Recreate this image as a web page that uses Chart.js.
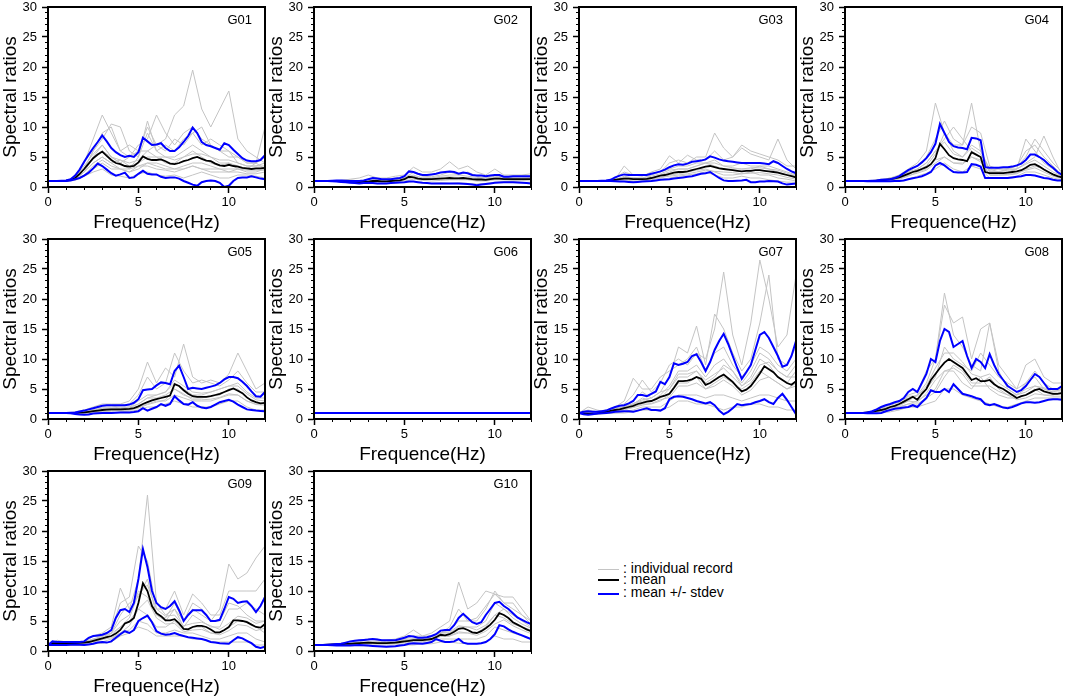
<!DOCTYPE html>
<html>
<head>
<meta charset="utf-8">
<script src="https://cdn.jsdelivr.net/npm/chart.js@4.4.1/dist/chart.umd.min.js"></script>
<style>
body { margin: 0; background: #fff; width: 1065px; height: 698px; position: relative; overflow: hidden;
       font-family: "Liberation Sans", Arial, Helvetica, sans-serif; }
canvas.panel { position: absolute; }
.key-line { position: absolute; left: 598px; width: 21px; }
.key-text { position: absolute; left: 623px; font-size: 14px; line-height: 16px; color: #000; white-space: nowrap; }
</style>
</head>
<body>

<div class="key-line" style="top:569px;height:1px;background:#c4c4c4"></div>
<div class="key-text" style="top:560px">: individual record</div>
<div class="key-line" style="top:579px;height:2px;background:#000"></div>
<div class="key-text" style="top:571px">: mean</div>
<div class="key-line" style="top:593px;height:2px;background:#0000ff"></div>
<div class="key-text" style="top:584px">: mean +/- stdev</div>

<script>
// frequency grids (Hz)
var freqFine = [0,0.25,0.5,0.75, 1,1.25,1.5,1.75, 2,2.25,2.5,2.75, 3,3.25,3.5,3.75,
    4,4.25,4.5,4.75, 5,5.25,5.5,5.75, 6,6.25,6.5,6.75, 7,7.25,7.5,7.75,
    8,8.25,8.5,8.75, 9,9.25,9.5,9.75, 10,10.25,10.5,10.75, 11,11.25,11.5,11.75, 12];
var freqCoarse = [0,0.5,1,1.5, 2,2.5,3,3.5, 4,4.5,5,5.5, 6,6.5,7,7.5, 8,8.5,9,9.5, 10,10.5,11,11.5, 12];

var panelNames = ['G01','G02','G03','G04','G05','G06','G07','G08','G09','G10'];

// ---- G01
var meanG01 = [1,1,1,1, 1.05,1.2,1.5,2.2, 3.0,3.9,4.8,5.4, 5.9,5.2,4.5,4.0, 3.8,3.5,3.4,3.5, 4.1,5.1,4.7,4.5,
    4.5,4.6,4.3,3.9, 3.8,4.0,4.3,4.5, 4.8,5.0,4.7,4.4, 4.3,3.9,3.6,3.5, 3.7,3.5,3.4,3.2, 3.1,3.0,3.1,3.1, 3.2];
var upperG01 = [1,1,1,1.05, 1.1,1.3,1.9,2.9, 4.2,5.4,6.5,7.5, 8.6,7.6,6.5,5.8, 5.3,5.0,5.2,5.0, 5.8,8.2,7.6,7.0,
    7.1,7.3,6.5,6.0, 6.0,6.6,7.5,8.5, 9.9,9.0,7.5,7.0, 6.8,6.5,6.2,7.3, 7.0,6.2,5.5,4.8, 4.4,4.3,4.3,4.5, 5.3];
var lowerG01 = [1,1,1,1, 1,1.1,1.3,1.5, 1.9,2.4,3.1,3.9, 3.5,2.9,2.3,1.9, 2.1,2.4,1.5,1.6, 2.2,2.7,2.2,2.1,
    2.1,1.7,1.5,1.6, 1.6,1.4,1.0,0.7, 0.4,0.2,0.8,1.0, 1.1,1.0,0.7,0.0, 0.2,1.0,1.5,1.6, 1.6,1.8,1.6,1.4, 1.3];
var grayG01 = [
    [1,1,1,1.3, 2.5,5,6,5, 4,5,6,6, 7,8,12,13.5, 19.5,13,10,13, 16,8,6,5, 4],
    [1,1,1,1.5, 4,8,12,9, 6,7,6,10, 7,6,8,7, 9,10,7,6, 5,5,4,4, 5],
    [1,1,1,1.2, 3,6,9,10, 6,5,7,8, 12,9,7,9, 10,8,7,6, 6,5,4,4, 3],
    [1,1,1,1.3, 3,5,7,5, 4,3,5,11, 6,5,5,6, 7,6,5,4, 4,3,3,4, 10],
    [1,1,1,1.2, 2,3,4,3, 3,2.5,3,4, 3.5,3,3,3, 3.5,3,3,3, 2.5,3,2.5,2.5, 3],
    [1,1,1,1.1, 1.8,2.5,3,2, 1.8,1.5,2.2,2.5, 2,1.8,2,1.5, 2,2.5,2,1.5, 1.5,2,2,1.8, 1.5],
    [1,1,1,1.3, 2.5,4,5,4, 4.5,3.5,4,5, 5,4,4,5, 6,5,4,3.5, 4,3.5,3,3, 3],
    [1,1,1,1.2, 2,3.5,4.5,3.5, 3,2.5,3.5,3.5, 3,2.8,2.5,3, 3.5,3,2.5,2.5, 2.5,2.5,2.2,2.2, 2.5],
    [1,1,1,1.4, 3,6,8,10.5, 10,6,5,9, 6,7,6,8, 9,7,8,7, 6,4,3.5,3.5, 4],
    [1,1,1,1.6, 3.5,5.5,7,5, 4.5,4,4.5,6, 5,5,4.5,5, 5.5,5.5,5,4.5, 4.5,4,3.5,3.5, 3.5],
    [1,1,1,1.4, 2.5,4,5,4, 3,3,3.5,4, 4,3.5,3,3.5, 4,4,3.5,3, 3,3,2.8,2.8, 2.8]
];

// ---- G02
var meanG02 = [1,1,1,1, 1,1,0.95,0.9, 0.85,0.8,0.8,0.85, 0.9,1.0,1.0,0.95, 0.95,1.0,1.05,1.1, 1.3,1.7,1.6,1.4,
    1.3,1.3,1.3,1.35, 1.4,1.45,1.5,1.45, 1.45,1.5,1.4,1.3, 1.25,1.25,1.2,1.3, 1.4,1.4,1.3,1.3, 1.3,1.3,1.3,1.3, 1.3];
var upperG02 = [1,1,1,1, 1.05,1.1,1.1,1.05, 1.0,1.0,1.0,1.1, 1.3,1.5,1.4,1.3, 1.3,1.3,1.4,1.5, 1.8,2.6,2.5,2.2,
    2.0,2.0,2.1,2.2, 2.4,2.5,2.6,2.5, 2.2,2.4,2.3,2.0, 1.9,1.9,1.8,1.9, 2.0,2.0,1.7,1.7, 1.8,1.8,1.8,1.8, 1.8];
var lowerG02 = [1,1,1,1, 0.95,0.9,0.85,0.8, 0.7,0.65,0.6,0.65, 0.7,0.65,0.6,0.6, 0.6,0.65,0.7,0.75, 0.8,0.9,0.9,0.8,
    0.7,0.65,0.6,0.6, 0.6,0.6,0.6,0.6, 0.6,0.55,0.5,0.4, 0.3,0.4,0.5,0.6, 0.7,0.75,0.8,0.8, 0.8,0.75,0.7,0.65, 0.6];
var grayG02 = [
    [1,1,1,1.1, 1.3,1.5,2.0,1.5, 1.5,1.8,2.0,3.3, 2.5,2.5,3.0,4.2, 3.0,3.5,2.5,2.0, 3.0,2.0,2.0,2.0, 2.2],
    [1,1,1,1, 0.9,0.8,1.0,1.3, 1.2,1.3,1.5,2.0, 1.5,1.5,1.8,2.0, 2.0,2.5,1.8,1.5, 2.0,1.5,1.5,1.5, 1.6],
    [1,1,1,0.9, 0.8,0.7,0.8,0.8, 0.8,0.9,1.0,1.3, 1.1,1.0,1.1,1.2, 1.2,1.2,1.0,1.0, 1.2,1.2,1.1,1.1, 1.0],
    [1,1,1,1, 1.0,0.9,1.1,1.0, 1.0,1.1,1.2,1.6, 1.3,1.4,1.5,1.5, 1.6,1.5,1.2,1.3, 1.5,1.4,1.4,1.3, 1.4],
    [1,1,1,0.9, 0.7,0.6,0.6,0.6, 0.6,0.7,0.8,0.9, 0.7,0.6,0.7,0.6, 0.7,0.6,0.5,0.6, 0.8,0.9,0.9,0.8, 0.7],
    [1,1,1,1.1, 1.2,1.0,1.2,1.1, 1.3,1.4,1.6,2.4, 1.8,1.7,2.0,2.5, 2.0,1.8,1.6,1.5, 1.8,1.6,1.7,1.8, 1.8],
    [1,1,1,1.0, 0.9,0.9,1.0,1.1, 1.1,1.2,1.5,1.8, 1.5,1.5,1.6,1.7, 1.6,1.6,1.4,1.4, 1.6,1.5,1.5,1.5, 1.5]
];

// ---- G03
var meanG03 = [1,1,1,1, 1,1,1,1.05, 1.2,1.3,1.4,1.4, 1.3,1.3,1.3,1.35, 1.5,1.7,1.9,2.0, 2.2,2.4,2.5,2.5,
    2.6,2.8,3.0,3.2, 3.4,3.5,3.3,3.1, 3.0,2.9,2.8,2.7, 2.6,2.7,2.7,2.8, 2.8,2.7,2.6,2.5, 2.4,2.2,2.0,1.8, 1.6];
var upperG03 = [1,1,1,1, 1,1.05,1.1,1.2, 1.6,1.9,2.1,2.0, 2.0,2.0,2.0,2.0, 2.2,2.4,2.6,2.9, 3.3,3.6,3.8,3.7,
    3.9,4.2,4.3,4.4, 4.6,5.1,4.9,4.6, 4.4,4.3,4.2,4.1, 4.0,4.0,4.0,4.0, 4.0,3.9,3.8,4.3, 4.0,3.5,3.0,2.6, 2.3];
var lowerG03 = [1,1,1,1, 1,1,1,1, 0.95,0.9,0.9,0.85, 0.8,0.85,0.9,0.95, 1.0,1.1,1.2,1.25, 1.3,1.4,1.5,1.6,
    1.7,1.8,2.0,2.2, 2.3,2.5,2.0,1.5, 1.1,1.0,1.0,1.05, 1.1,1.2,0.8,0.8, 0.9,0.9,1.0,0.95, 0.9,0.6,0.4,0.5, 0.6];
var grayG03 = [
    [1,1,1,1.1, 1.5,2.5,2.0,2.0, 2.2,2.5,4.0,4.5, 4.0,5.0,5.0,9.0, 6.5,5.0,6.5,5.5, 5.0,4.5,8.0,4.5, 3.0],
    [1,1,1,1, 1.3,3.5,2.0,1.8, 2.5,3.0,5.2,4.0, 5.3,4.5,4.5,6.0, 4.5,5.0,7.0,6.0, 5.5,5.0,4.5,3.5, 3.5],
    [1,1,1,1, 1.2,1.5,1.5,1.5, 2.0,2.5,3.0,3.5, 3.5,4.0,4.0,4.5, 3.5,3.5,4.0,3.5, 3.5,3.5,3.0,2.5, 2.0],
    [1,1,1,1, 1.1,1.2,1.0,1.0, 1.2,1.5,2.0,2.2, 2.5,2.8,3.0,2.5, 2.0,2.0,2.2,2.5, 2.0,2.0,1.5,1.3, 1.0],
    [1,1,1,1, 1.0,0.9,0.9,1.0, 1.0,1.2,1.5,1.8, 2.0,2.2,2.5,2.0, 1.5,1.5,1.8,1.5, 1.5,1.2,1.0,0.8, 0.8],
    [1,1,1,1, 1.2,1.8,1.5,1.3, 1.5,2.0,2.5,3.0, 3.0,3.5,4.0,3.5, 3.0,3.0,3.0,3.0, 3.5,3.0,2.5,2.0, 1.8],
    [1,1,1,1, 1.3,1.6,1.5,1.5, 1.8,2.2,2.8,3.0, 3.0,3.5,4.0,4.0, 3.5,3.2,3.0,3.2, 3.2,3.0,2.8,2.3, 1.8],
    [1,1,1,1, 1.1,1.2,1.2,1.2, 1.3,1.6,1.8,2.0, 2.2,2.5,2.8,2.6, 2.5,2.4,2.2,2.3, 2.4,2.2,2.0,1.6, 1.3]
];

// ---- G04
var meanG04 = [1,1,1,1, 1,1,1,1.05, 1.1,1.2,1.3,1.45, 1.6,1.9,2.2,2.5, 2.7,3.0,3.3,3.8, 4.8,7.2,6.3,5.3,
    4.8,4.6,4.5,4.3, 5.8,5.4,5.0,2.5, 2.3,2.3,2.3,2.3, 2.4,2.5,2.6,2.8, 3.2,3.7,3.8,3.4, 2.9,2.5,2.1,1.8, 1.6];
var upperG04 = [1,1,1,1, 1,1,1.05,1.1, 1.2,1.25,1.3,1.5, 1.8,2.3,2.8,3.2, 3.5,4.1,4.8,5.8, 7.2,10.5,9.0,7.5,
    6.8,6.6,6.5,6.3, 8.2,8.1,7.8,3.3, 3.2,3.2,3.2,3.3, 3.3,3.4,3.6,3.9, 4.5,5.4,5.4,5.0, 4.5,3.8,3.2,2.5, 2.0];
var lowerG04 = [1,1,1,1, 1,0.95,0.95,0.95, 0.95,0.95,0.95,1.0, 1.0,1.1,1.3,1.45, 1.6,1.8,2.1,2.5, 3.6,4.0,3.6,3.0,
    2.5,2.4,2.4,2.5, 3.8,3.7,3.4,1.5, 1.5,1.5,1.5,1.5, 1.5,1.6,1.7,1.8, 2.0,2.0,1.9,1.7, 1.5,1.4,1.2,1.1, 1.1];
var grayG04 = [
    [1,1,1,1, 1.2,1.5,2.0,3.0, 4.0,6.0,14.0,9.0, 7.0,7.0,10.0,9.0, 3.5,3.0,3.0,3.5, 5.0,8.0,6.0,4.0, 2.5],
    [1,1,1,1, 1.1,1.3,1.8,2.5, 3.5,5.0,8.0,11.0, 8.0,7.0,14.0,6.0, 3.0,2.5,2.5,3.0, 4.0,5.0,8.5,5.0, 2.0],
    [1,1,1,1, 1.1,1.5,1.5,2.0, 3.0,4.0,6.0,8.0, 10.0,8.0,6.0,5.0, 2.5,2.5,3.0,3.0, 8.0,6.0,4.0,3.0, 2.0],
    [1,1,1,1, 1.0,1.2,1.3,1.8, 2.5,3.0,4.5,5.0, 4.0,4.0,5.0,4.5, 2.0,2.0,2.0,2.2, 3.0,3.5,3.0,2.0, 1.5],
    [1,1,1,1, 1.0,1.0,1.0,1.3, 1.8,2.3,3.0,4.0, 3.0,2.5,3.5,3.0, 1.5,1.5,1.6,1.8, 2.5,2.5,2.0,1.5, 1.2],
    [1,1,1,1, 1.3,1.3,1.8,2.2, 2.8,3.5,5.5,9.0, 6.0,5.0,7.0,6.0, 2.8,3.0,3.0,3.5, 6.0,7.0,5.0,3.5, 2.0],
    [1,1,1,1, 1.2,1.5,1.8,2.5, 3.0,4.0,6.0,7.5, 5.5,5.0,6.5,5.5, 2.6,2.6,2.8,3.0, 3.8,4.5,3.5,2.5, 1.8],
    [1,1,1,1, 1.0,1.2,1.4,1.9, 2.3,2.8,4.0,5.0, 4.0,3.8,5.0,4.2, 2.0,2.0,2.1,2.3, 2.8,3.2,2.5,1.8, 1.4]
];

// ---- G05
var meanG05 = [1,1,1,1, 1,1,1,1.05, 1.1,1.2,1.3,1.4, 1.5,1.55,1.6,1.6, 1.6,1.65,1.7,1.8, 2.1,2.5,2.8,3.1,
    3.3,3.5,3.7,3.9, 5.8,5.5,4.8,4.2, 3.8,3.7,3.7,3.7, 3.8,4.0,4.2,4.5, 4.8,5.1,4.7,4.3, 3.6,3.1,2.8,2.6, 2.7];
var upperG05 = [1,1,1,1, 1,1.05,1.1,1.25, 1.4,1.6,1.8,2.0, 2.2,2.3,2.3,2.3, 2.3,2.3,2.4,2.7, 3.3,4.8,4.9,5.0,
    5.6,6.1,6.0,5.8, 8.0,8.9,7.0,5.0, 5.2,5.1,5.0,5.2, 5.4,5.6,6.0,6.6, 7.0,7.0,6.8,6.2, 5.5,4.6,3.8,3.7, 4.5];
var lowerG05 = [1,1,1,1, 1,0.95,0.85,0.75, 0.7,0.75,0.9,0.95, 1.0,1.0,1.0,1.05, 1.1,1.1,1.1,1.15, 1.3,1.8,1.4,1.7,
    2.0,2.5,2.2,2.5, 3.8,3.1,2.5,2.4, 2.8,2.2,1.9,1.8, 2.0,2.4,2.8,3.0, 3.2,2.9,2.4,2.0, 1.6,1.5,1.4,1.35, 1.3];
var grayG05 = [
    [1,1,1,1.2, 1.5,2.0,2.5,2.5, 2.5,3.0,5.0,9.5, 6.0,8.5,7.0,12.5, 7.0,6.0,6.5,6.0, 7.5,11.0,8.0,5.0, 6.0],
    [1,1,1,1.1, 1.3,1.8,2.0,2.0, 2.2,2.5,4.0,7.0, 5.0,6.0,11.0,8.0, 6.0,6.5,6.0,5.5, 6.5,8.0,6.0,4.5, 4.5],
    [1,1,1,1.0, 1.2,1.5,1.8,1.8, 2.0,2.0,3.0,4.0, 4.0,4.5,6.0,5.0, 4.0,4.0,4.5,5.0, 5.5,6.0,4.5,3.5, 3.5],
    [1,1,1,1.0, 0.9,1.0,1.2,1.3, 1.5,1.5,2.0,2.5, 3.0,3.0,4.0,3.5, 3.0,3.0,3.0,3.5, 4.0,4.0,3.0,2.5, 2.5],
    [1,1,1,0.9, 0.8,1.0,1.0,1.0, 1.2,1.3,1.5,2.0, 2.0,2.5,3.0,2.5, 2.0,2.0,2.0,2.5, 3.0,3.0,2.0,1.5, 1.5],
    [1,1,1,1.0, 1.0,1.2,1.5,1.5, 1.8,1.8,2.5,3.5, 3.5,4.0,5.0,4.0, 3.5,3.5,3.8,4.0, 5.0,5.0,3.5,2.8, 2.5],
    [1,1,1,1.1, 1.2,1.5,1.8,1.8, 1.8,2.0,2.5,3.5, 4.0,4.5,6.5,5.5, 4.5,4.3,4.5,5.0, 5.5,5.5,4.2,3.2, 3.0],
    [1,1,1,1.0, 1.0,1.2,1.3,1.4, 1.4,1.5,1.8,2.4, 2.8,3.2,5.0,4.2, 3.2,3.2,3.3,3.6, 4.2,4.0,3.0,2.4, 2.3]
];

// ---- G06 (flat)
var meanG06 = [1,1,1,1, 1,1,1,1, 1,1,1,1, 1,1,1,1, 1,1,1,1, 1,1,1,1,
    1,1,1,1, 1,1,1,1, 1,1,1,1, 1,1,1,1, 1,1,1,1, 1,1,1,1, 1];
var upperG06 = [1,1,1,1, 1,1,1,1, 1,1,1,1, 1,1,1,1, 1,1,1,1, 1,1,1,1,
    1,1,1,1, 1,1,1,1, 1,1,1,1, 1,1,1,1, 1,1,1,1, 1,1,1,1, 1];
var lowerG06 = [1,1,1,1, 1,1,1,1, 1,1,1,1, 1,1,1,1, 1,1,1,1, 1,1,1,1,
    1,1,1,1, 1,1,1,1, 1,1,1,1, 1,1,1,1, 1,1,1,1, 1,1,1,1, 1];
var grayG06 = [];

// ---- G07
var meanG07 = [1,0.95,0.9,0.9, 0.95,1.05,1.2,1.35, 1.5,1.6,1.8,2.0, 2.2,2.5,2.7,2.9, 3.0,3.3,3.7,3.9, 4.2,5.2,6.3,6.3,
    6.4,6.6,7.0,6.7, 5.7,6.0,6.5,7.0, 7.4,6.8,6.2,5.3, 4.6,4.9,5.5,6.5, 7.6,8.8,8.3,7.8, 7.0,6.5,6.0,5.7, 6.3];
var upperG07 = [1,1.2,1.3,1.2, 1.2,1.3,1.4,1.7, 2.0,2.2,2.3,2.6, 3.0,4.0,4.0,3.8, 4.2,4.6,6.2,5.8, 7.0,9.3,9.0,9.2,
    9.5,10.5,10.8,9.5, 8.0,9.5,11.5,13.0, 14.2,12.5,10.5,8.5, 6.7,7.8,9.0,11.5, 14.0,14.5,13.5,12.0, 10.5,8.7,9.0,10.5, 13.0];
var lowerG07 = [1,0.8,0.7,0.8, 0.9,0.95,1.0,1.1, 1.2,1.25,1.3,1.3, 1.2,1.4,1.6,1.8, 1.5,1.5,1.4,1.8, 3.3,3.7,3.8,3.7,
    3.5,3.3,3.0,2.8, 2.6,2.8,2.3,1.4, 0.8,1.2,1.8,2.5, 2.3,2.4,2.5,2.8, 3.0,3.3,2.8,2.5, 3.5,4.2,3.2,2.0, 0.8];
var grayG07 = [
    [1,1.5,1.2,1.5, 2.0,2.5,4.0,6.5, 4.5,6.0,9.0,10.0, 9.0,11.0,10.0,15.0, 24.5,14.0,9.0,16.0, 26.5,20.0,12.0,14.0, 24.0],
    [1,1.2,1.0,1.3, 1.8,2.0,3.0,4.5, 3.5,4.5,7.0,12.0, 11.0,15.5,9.0,17.5, 15.0,11.0,8.0,10.0, 16.0,24.0,10.0,9.0, 12.0],
    [1,2.0,1.5,1.2, 1.5,2.0,2.5,3.0, 3.0,4.0,5.5,8.0, 8.0,9.0,7.0,9.0, 10.0,8.0,6.0,8.0, 11.0,10.0,8.0,7.0, 9.0],
    [1,1.0,0.8,1.0, 1.2,1.5,2.0,2.5, 2.5,3.0,4.0,6.0, 6.0,7.0,5.0,6.0, 7.0,6.0,5.0,6.0, 8.0,7.0,6.0,5.0, 6.0],
    [1,0.8,0.8,1.0, 1.0,1.2,1.5,2.0, 2.0,2.0,3.0,4.0, 4.0,4.0,3.5,4.0, 4.0,3.5,3.0,3.5, 4.0,4.0,3.5,3.0, 3.0],
    [1,0.7,0.8,0.9, 1.0,1.0,1.2,1.5, 1.5,1.5,2.0,3.0, 3.0,2.5,2.5,2.0, 1.5,2.0,2.0,2.5, 2.5,2.0,2.0,1.5, 1.5],
    [1,1.3,1.0,1.2, 1.5,1.8,2.5,3.5, 3.0,3.5,5.0,7.0, 7.0,8.0,6.0,7.0, 9.0,8.0,5.5,7.0, 10.0,9.0,7.0,6.0, 8.0],
    [1,1.2,1.1,1.3, 2.0,3.0,6.8,5.0, 5.0,7.0,8.0,9.0, 10.0,12.0,8.0,11.0, 12.0,9.0,7.0,9.0, 12.0,11.0,9.0,8.0, 10.0],
    [1,1,1,1.3, 1.7,2.0,2.6,3.2, 3.5,4.5,5.0,7.5, 7.5,8.0,6.5,7.5, 8.5,7.0,5.5,6.5, 9.0,9.5,8.0,7.0, 7.0],
    [1,0.9,0.9,1.1, 1.3,1.6,1.9,2.3, 2.6,3.2,3.6,5.5, 5.5,6.0,5.0,5.5, 6.5,5.5,4.0,4.8, 6.5,7.0,6.0,5.0, 5.5]
];

// ---- G08
var meanG08 = [1,1,1,1, 1,1.1,1.2,1.35, 1.5,1.7,2.0,2.2, 2.5,2.9,3.3,3.7, 3.2,4.2,5.0,6.5, 7.5,8.5,9.4,10.0,
    9.5,9.0,8.5,7.5, 6.5,6.8,6.3,6.3, 6.5,5.8,5.3,5.0, 4.5,4.0,3.5,3.8, 4.0,4.4,4.8,5.0, 4.6,4.4,4.2,4.2, 4.3];
var upperG08 = [1,1,1,1, 1,1.1,1.3,1.6, 2.0,2.3,2.5,2.8, 3.0,3.5,4.5,5.0, 4.5,6.0,7.5,10.0, 9.5,13.0,15.0,14.5,
    12.0,12.5,13.0,10.5, 8.5,10.0,9.5,8.5, 10.8,9.0,7.5,6.5, 5.5,5.0,4.5,4.8, 5.5,6.5,7.5,7.0, 6.0,5.0,5.0,5.0, 5.5];
var lowerG08 = [1,1,1,1, 1,0.95,0.95,0.95, 1.0,1.3,1.5,1.7, 1.8,1.9,2.0,2.3, 2.0,2.8,3.5,4.8, 4.5,4.5,5.0,4.5,
    5.8,5.0,4.2,4.0, 3.8,3.5,3.3,2.5, 2.3,2.5,2.2,1.9, 1.8,2.0,2.3,2.6, 2.8,2.8,2.7,2.8, 3.0,3.2,3.3,3.3, 3.2];
var grayG08 = [
    [1,1,1,1.3, 2.0,2.5,3.0,4.0, 4.5,8.0,10.0,19.0, 16.0,17.0,10.0,15.0, 16.0,9.0,7.0,5.0, 9.0,10.0,7.0,6.0, 6.0],
    [1,1,1,1.2, 1.8,2.5,3.0,3.5, 4.0,6.0,10.0,21.0, 14.0,12.0,9.0,8.0, 16.0,8.0,5.0,4.0, 6.0,8.0,6.0,5.0, 5.0],
    [1,1,1,1.1, 1.5,2.0,2.5,3.0, 4.0,5.0,7.0,12.0, 10.0,9.0,8.0,11.0, 9.0,7.0,6.0,5.0, 6.0,7.0,5.0,4.5, 5.0],
    [1,1,1,1.0, 1.3,1.8,2.0,2.5, 3.0,4.0,5.0,8.0, 8.0,6.0,5.0,7.0, 5.0,4.0,3.5,3.5, 4.0,5.0,4.0,4.0, 4.5],
    [1,1,1,1.0, 1.0,1.2,1.5,2.0, 2.0,2.5,3.0,5.0, 5.0,4.0,3.5,3.0, 2.5,2.0,2.0,2.5, 3.0,3.5,3.5,3.5, 3.5],
    [1,1,1,1.0, 1.2,1.5,2.0,2.5, 2.5,3.5,4.5,7.0, 9.0,8.0,6.0,6.0, 7.0,5.0,4.0,4.0, 5.0,5.5,5.0,4.5, 4.5],
    [1,1,1,1.3, 1.7,2.3,2.8,3.8, 3.8,5.5,8.5,11.0, 11.0,9.5,7.5,7.0, 7.5,6.0,5.0,4.0, 4.5,5.5,5.2,4.8, 4.8],
    [1,1,1,1.1, 1.4,1.8,2.2,3.0, 2.8,4.3,6.5,8.0, 8.5,7.5,5.5,5.5, 5.5,4.6,4.0,3.2, 3.5,4.2,4.0,3.8, 3.8]
];

// ---- G09
var meanG09 = [1,1.3,1.3,1.3, 1.3,1.3,1.3,1.35, 1.4,1.5,1.7,1.9, 2.1,2.3,2.5,2.9, 3.5,4.6,4.9,5.5, 8.0,11.3,10.0,7.5,
    6.3,5.8,5.1,5.1, 5.3,4.6,3.7,3.6, 4.0,4.2,4.2,4.0, 3.6,3.1,3.1,3.5, 4.0,5.1,5.1,5.0, 4.8,4.4,4.0,3.9, 4.5];
var upperG09 = [1,1.6,1.5,1.5, 1.5,1.5,1.5,1.5, 1.6,2.2,2.5,2.6, 2.7,3.0,3.5,5.5, 6.8,7.0,6.5,8.0, 12.0,17.0,14.0,10.0,
    8.0,7.3,7.0,7.5, 8.3,6.8,5.0,6.0, 6.8,6.8,6.8,6.0, 5.0,5.0,5.2,7.0, 9.0,8.7,8.0,8.2, 8.3,7.5,6.5,7.5, 9.0];
var lowerG09 = [1,1.0,1.0,1.0, 1.0,1.05,1.1,1.05, 1.0,1.1,1.2,1.4, 1.5,1.4,1.6,2.2, 2.8,3.3,3.0,3.5, 5.0,5.5,5.9,4.8,
    3.3,2.9,2.7,2.8, 3.0,2.7,2.5,2.3, 2.2,2.1,2.0,1.8, 1.5,1.4,1.3,1.25, 1.2,1.8,2.3,2.1, 1.7,1.3,0.7,0.5, 0.7];
var grayG09 = [
    [1,1.8,1.5,1.3, 1.5,2.5,3.0,4.0, 10.5,7.0,12.0,26.0, 8.0,6.0,7.0,5.0, 7.0,6.0,5.0,7.0, 14.5,12.0,13.0,15.5, 17.5],
    [1,1.5,1.5,1.5, 1.5,2.0,2.5,3.5, 8.0,9.0,17.5,15.0, 7.0,7.0,10.0,6.0, 9.5,8.0,6.0,6.0, 10.0,10.0,10.0,10.0, 12.0],
    [1,1.3,1.3,1.2, 1.5,2.0,2.0,3.0, 5.0,6.0,10.0,9.0, 6.0,5.0,7.0,4.0, 6.0,5.0,4.0,4.0, 7.0,7.0,8.0,7.0, 6.0],
    [1,1.2,1.2,1.2, 1.3,1.5,2.0,2.5, 4.0,5.0,7.0,6.0, 4.0,4.0,5.0,3.5, 4.0,4.0,3.0,3.0, 4.0,5.0,5.0,4.0, 3.0],
    [1,1.0,1.0,1.1, 1.2,1.2,1.5,2.0, 3.0,3.5,5.0,4.5, 3.0,3.0,3.5,3.0, 3.0,2.5,2.0,2.0, 2.5,3.0,3.0,2.0, 1.5],
    [1,1.0,1.0,1.0, 1.0,1.2,1.3,1.5, 2.5,3.0,4.0,3.5, 2.5,2.5,2.5,2.5, 2.0,2.0,1.5,1.5, 1.5,1.5,1.5,1.0, 1.0],
    [1,1.5,1.3,1.3, 1.5,2.5,2.5,3.0, 6.0,8.0,9.0,12.0, 6.0,5.5,8.0,5.0, 8.0,7.0,5.0,5.0, 8.0,7.5,6.0,5.0, 5.0],
    [1,1.4,1.4,1.4, 1.5,1.9,2.4,2.9, 4.0,5.5,9.5,11.0, 7.0,5.8,6.0,4.2, 4.6,4.8,4.2,3.6, 4.6,5.8,5.5,4.6, 5.0],
    [1,1.2,1.2,1.2, 1.3,1.5,1.9,2.2, 3.0,4.2,7.0,8.5, 5.5,4.5,4.6,3.2, 3.5,3.6,3.0,2.7, 3.4,4.4,4.2,3.4, 3.8]
];

// ---- G10
var meanG10 = [1,1,1,1.05, 1.1,1.1,1.15,1.2, 1.2,1.25,1.3,1.35, 1.4,1.35,1.3,1.3, 1.3,1.35,1.4,1.5, 1.6,1.7,1.8,1.8,
    1.8,1.9,2.0,2.3, 2.7,2.6,2.8,3.2, 3.7,3.8,3.5,3.1, 3.0,3.3,3.8,4.4, 5.2,6.3,6.0,5.5, 4.8,4.4,4.0,3.6, 3.3];
var upperG10 = [1,1,1,1.05, 1.1,1.15,1.2,1.4, 1.6,1.7,1.8,1.85, 1.9,2.0,1.9,1.8, 1.8,1.8,1.8,2.0, 2.2,2.5,2.4,2.2,
    2.2,2.3,2.5,2.8, 3.4,3.5,3.5,4.3, 5.5,6.2,5.5,4.8, 4.5,4.8,6.0,7.0, 8.0,8.2,7.5,7.0, 6.3,5.6,5.2,4.8, 4.5];
var lowerG10 = [1,1,1,1, 0.95,0.9,0.9,0.9, 0.9,0.95,1.0,0.95, 0.9,0.85,0.8,0.75, 0.7,0.75,0.8,0.9, 1.0,1.2,1.3,1.25,
    1.2,1.35,1.5,2.0, 1.7,1.5,1.5,1.6, 2.0,1.4,1.2,1.2, 1.2,1.3,1.5,2.0, 2.8,4.3,4.1,3.6, 3.2,2.9,2.6,2.3, 2.0];
var grayG10 = [
    [1,1,1.1,1.2, 1.5,1.8,2.0,1.8, 1.8,2.0,2.5,3.5, 2.5,3.0,4.0,5.0, 11.5,7.0,8.0,10.0, 9.5,9.0,9.0,7.0, 5.0],
    [1,1,1.1,1.3, 1.5,1.5,2.0,2.0, 1.5,1.8,2.0,2.5, 2.5,2.5,3.0,4.0, 7.0,5.0,5.0,7.0, 10.0,8.0,8.0,6.0, 5.0],
    [1,1,1.0,1.1, 1.2,1.3,1.5,1.5, 1.3,1.5,1.8,2.0, 2.0,2.0,3.0,3.0, 4.0,4.0,4.0,5.0, 8.0,7.0,6.0,5.0, 4.0],
    [1,1,1.0,1.0, 1.1,1.2,1.2,1.2, 1.2,1.2,1.5,1.5, 1.5,2.0,2.5,2.5, 3.0,3.0,3.0,4.0, 6.0,5.5,4.5,4.0, 3.5],
    [1,1,1.0,1.0, 1.0,1.0,1.0,1.0, 1.0,1.0,1.2,1.3, 1.3,1.5,2.0,2.0, 2.0,2.0,2.0,2.5, 4.0,3.5,3.0,2.5, 2.0],
    [1,1,1.0,0.9, 0.9,0.9,0.8,0.8, 0.7,0.8,1.0,1.0, 1.2,1.2,1.5,1.5, 1.3,1.2,1.2,1.5, 2.5,2.0,2.0,1.5, 1.5],
    [1,1,1.1,1.2, 1.3,1.5,1.5,1.5, 1.5,1.5,2.0,2.0, 2.0,2.5,3.0,3.5, 5.0,5.0,5.5,7.5, 9.5,8.0,7.0,6.0, 4.5],
    [1,1,1.1,1.2, 1.3,1.4,1.5,1.5, 1.4,1.6,1.8,2.0, 2.0,2.3,3.0,3.2, 4.2,4.0,3.5,4.3, 6.0,7.0,5.5,4.5, 3.8],
    [1,1,1.0,1.1, 1.1,1.2,1.3,1.2, 1.2,1.3,1.4,1.6, 1.6,1.8,2.4,2.5, 3.2,3.0,2.6,3.3, 4.5,5.2,4.2,3.5, 2.9]
];

var panelMean = [meanG01, meanG02, meanG03, meanG04, meanG05, meanG06, meanG07, meanG08, meanG09, meanG10];
var panelUpper = [upperG01, upperG02, upperG03, upperG04, upperG05, upperG06, upperG07, upperG08, upperG09, upperG10];
var panelLower = [lowerG01, lowerG02, lowerG03, lowerG04, lowerG05, lowerG06, lowerG07, lowerG08, lowerG09, lowerG10];
var panelGray = [grayG01, grayG02, grayG03, grayG04, grayG05, grayG06, grayG07, grayG08, grayG09, grayG10];

var FONT = '"Liberation Sans", Arial, Helvetica, sans-serif';
var GRAY = '#c4c4c4', BLUE = '#0000ff';
var colLeft = [0, 266, 531, 797];
var rowTop = [0, 232, 464];

Chart.defaults.font.family = FONT;
Chart.defaults.color = '#000';

function toPoints(freqs, vals) {
    return vals.map(function (v, i) { return {x: freqs[i], y: v}; });
}

// box around the plot area + station name in the corner
var framePlugin = {
    id: 'frame',
    afterDraw: function (chart, args, opts) {
        var a = chart.chartArea, ctx = chart.ctx;
        ctx.save();
        ctx.strokeStyle = '#000';
        ctx.lineWidth = 2;
        ctx.strokeRect(a.left, a.top, a.right - a.left, a.bottom - a.top);
        ctx.fillStyle = '#000';
        ctx.font = '13px ' + FONT;
        ctx.textAlign = 'right';
        ctx.textBaseline = 'middle';
        ctx.fillText(opts.label, a.right - 13, a.top + 13);
        ctx.restore();
    }
};

function line(data, color, width, order) {
    return {data: data, borderColor: color, borderWidth: width, pointRadius: 0,
            fill: false, tension: 0, order: order, xAxisID: 'x', yAxisID: 'y'};
}

function make_panel(i) {
    var cv = document.createElement('canvas');
    cv.className = 'panel';
    cv.width = 266; cv.height = 233;
    cv.style.left = colLeft[i % 4] + 'px';
    cv.style.top = rowTop[Math.floor(i / 4)] + 'px';
    document.body.appendChild(cv);

    var sets = [];
    sets.push(line(toPoints(freqFine, panelUpper[i]), BLUE, 2, 0));
    sets.push(line(toPoints(freqFine, panelLower[i]), BLUE, 2, 0));
    sets.push(line(toPoints(freqFine, panelMean[i]), '#000', 1.8, 1));
    for (var k = 0; k < panelGray[i].length; k++) {
        sets.push(line(toPoints(freqCoarse, panelGray[i][k]), GRAY, 1, 2));
    }

    new Chart(cv, {
        type: 'line',
        data: {datasets: sets},
        options: {
            responsive: false,
            animation: false,
            events: [],
            layout: {padding: {top: 7, right: 1, left: 0, bottom: 0}},
            plugins: {legend: {display: false}, tooltip: {enabled: false}, frame: {label: panelNames[i]}},
            scales: {
                x: {type: 'linear', position: 'bottom', min: 0, max: 12,
                    ticks: {stepSize: 5, includeBounds: false, padding: 2, maxRotation: 0,
                            font: {size: 13, lineHeight: 1.2}, color: '#000'},
                    grid: {drawOnChartArea: false, tickLength: 6, tickColor: '#000', tickWidth: 1.5},
                    border: {color: '#000', width: 2},
                    title: {display: true, text: 'Frequence(Hz)', color: '#000', padding: 0,
                            font: {size: 19, lineHeight: 1.1}},
                    afterFit: function (s) { s.height = 46; s.paddingLeft = 0; s.paddingRight = 0; }},
                y: {type: 'linear', position: 'left', min: 0, max: 30,
                    ticks: {stepSize: 5, padding: 5, font: {size: 13, lineHeight: 1}, color: '#000'},
                    grid: {drawOnChartArea: false, tickLength: 6, tickColor: '#000', tickWidth: 1.5},
                    border: {color: '#000', width: 2},
                    title: {display: true, text: 'Spectral ratios', color: '#000', padding: 0,
                            font: {size: 19, lineHeight: 1.1}},
                    afterFit: function (s) { s.width = 48; s.paddingTop = 0; s.paddingBottom = 0; }},
                xMinor: {type: 'linear', axis: 'x', position: {y: 0}, min: 0, max: 12,
                    ticks: {stepSize: 1, display: false},
                    grid: {drawOnChartArea: false, tickLength: 3, tickColor: '#000', tickWidth: 1},
                    border: {display: false}},
                yMinor: {type: 'linear', axis: 'y', position: {x: 0}, min: 0, max: 30,
                    ticks: {stepSize: 1, display: false},
                    grid: {drawOnChartArea: false, tickLength: 3, tickColor: '#000', tickWidth: 1},
                    border: {display: false}}
            }
        },
        plugins: [framePlugin]
    });
}

for (var p = 0; p < panelNames.length; p++) {
    make_panel(p);
}
</script>
</body>
</html>
